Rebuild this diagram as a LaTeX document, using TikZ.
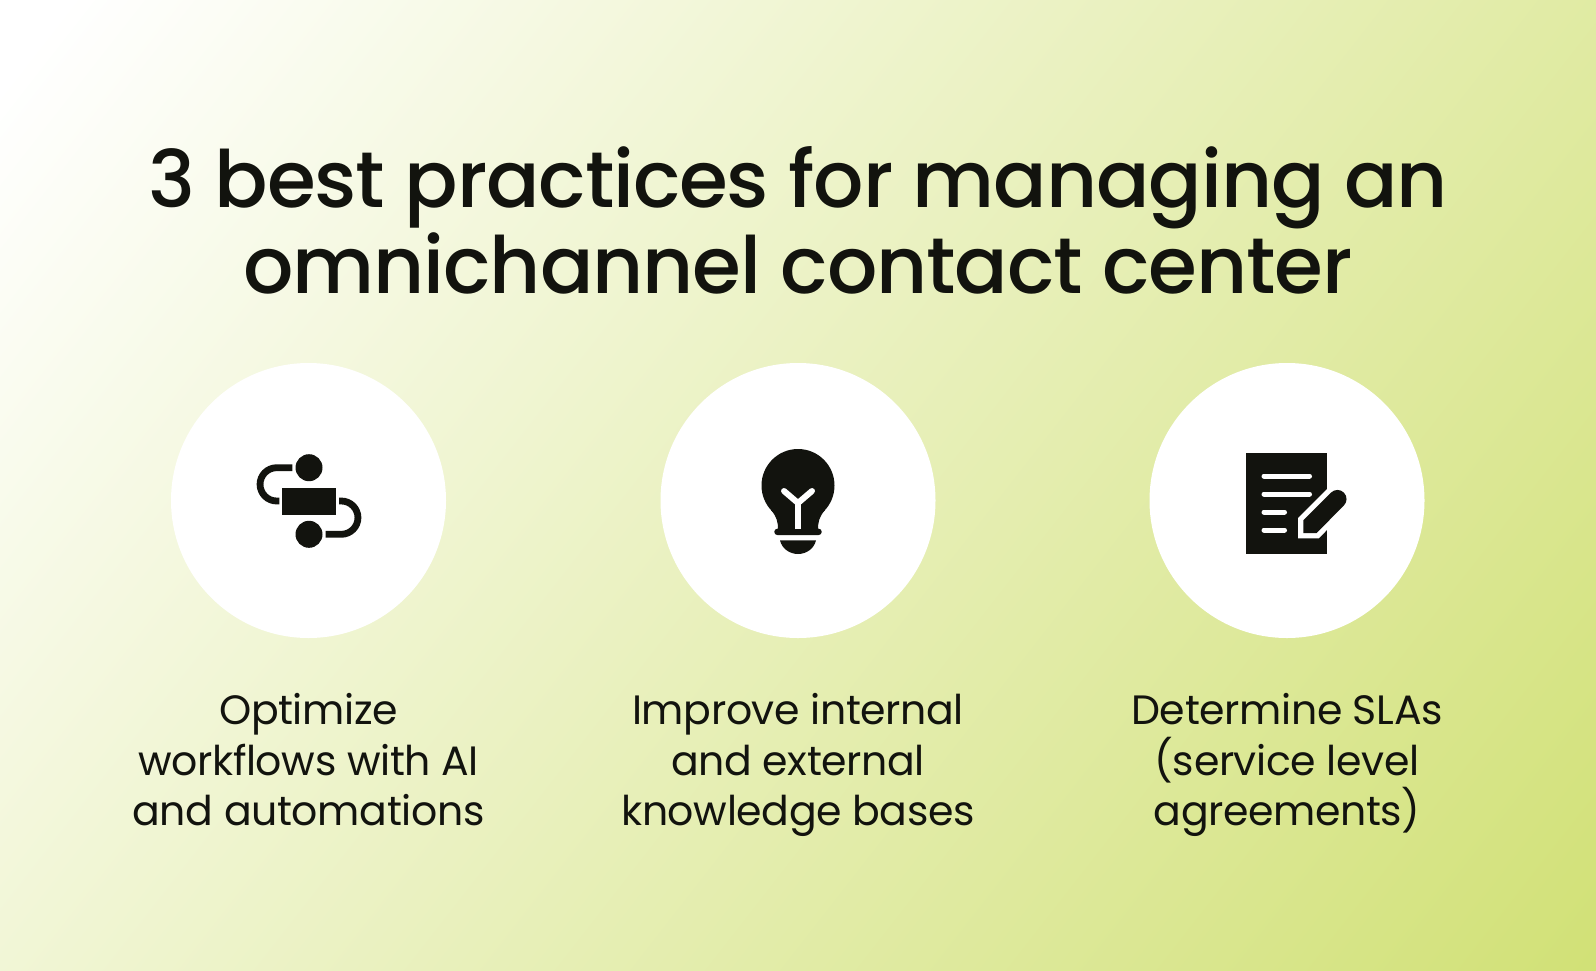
\documentclass[tikz,border=0pt]{standalone}
\usepackage{fontspec}
\setmainfont{Poppins}[LetterSpace=-0.9]
\newfontfamily\titlefont{Poppins Medium}[LetterSpace=-1.4]
\definecolor{ink}{HTML}{12130E}
\definecolor{limeend}{HTML}{C7DA58}
\pgfdeclareverticalshading{bggrad}{100bp}{color(0bp)=(limeend); color(83bp)=(white); color(100bp)=(white)}
\tikzset{
  x=1pt,y=-1pt,
  disc/.style={circle,fill=white,minimum size=275pt,inner sep=0pt},
  titletext/.style={align=center,text=ink,inner sep=0pt,anchor=base,font=\titlefont\fontsize{79}{85}\selectfont},
  bodytext/.style={align=center,text=ink,inner sep=0pt,anchor=base,font=\fontsize{41}{50.5}\selectfont},
  inkline/.style={draw=ink,line width=6.8pt},
  paperline/.style={draw=white,line width=5pt,line cap=round},
}
\begin{document}
\begin{tikzpicture}
\useasboundingbox (0,0) rectangle (1596,970);
\shade[shading=bggrad,shading angle=52] (0,0) rectangle (1596,970);
\node[titletext] (title1) at (798,207.5) {3 best practices for managing an};
\node[titletext] (title2) at (798,293) {omnichannel contact center};
\node[disc] (c1) at (308.5,500.5) {};
\node[disc] (c2) at (798,500.5) {};
\node[disc] (c3) at (1287,500.5) {};
\node[bodytext] (a1) at (308.5,724) {Optimize};
\node[bodytext] (a2) at (308.5,775) {workflows with AI};
\node[bodytext] (a3) at (308.5,825) {and automations};
\node[bodytext] (b1) at (798,724) {Improve internal};
\node[bodytext] (b2) at (798,775) {and external};
\node[bodytext] (b3) at (798,825) {knowledge bases};
\node[bodytext] (d1) at (1287,724) {Determine SLAs};
\node[bodytext] (d2) at (1287,775) {(service level};
\node[bodytext] (d3) at (1287,825) {agreements)};
% workflow icon
\fill[ink] (309,467.7) circle[radius=13.5];
\fill[ink] (309,534.3) circle[radius=13.5];
\fill[ink] (282.3,488) rectangle (335.7,514.7);
\draw[inkline] (292.3,467.7) -- (276.7,467.7) arc[start angle=-90,end angle=-270,radius=16.65] -- (279.3,501);
\draw[inkline] (339,501) -- (341.3,501) arc[start angle=-90,end angle=90,radius=16.65] -- (325.7,534.3);
% bulb icon
\fill[ink] (798,485.5) circle[radius=36.5];
\fill[ink] (771,510) .. controls (777,517) and (778,522) .. (778,530) -- (818,530) .. controls (818,522) and (819,517) .. (825,510) -- cycle;
\fill[ink,rounded corners=3pt] (774.3,528.7) rectangle (821.7,535);
\fill[ink] (780,540.3) -- (816,540.3) .. controls (814,549) and (806,554) .. (798,554) .. controls (790,554) and (782,549) .. (780,540.3) -- cycle;
\draw[white,line width=6pt] (798,529) -- (798,502);
\draw[white,line width=6pt,line cap=round,line join=miter] (784,491) -- (798,503) -- (812,491);
% document icon
\fill[ink] (1246,453.3) rectangle (1327.3,554);
\draw[paperline] (1264,476) -- (1309.5,476);
\draw[paperline] (1264,494) -- (1309.5,494);
\draw[paperline] (1264,512) -- (1284.5,512);
\draw[paperline] (1264,530) -- (1284.5,530);
\path[draw=white,line width=10.5pt,line join=miter]
  (1303.3,520.3) -- (1331,492.6) arc[start angle=-135,end angle=45,radius=9.1] -- (1316.4,533.2) -- (1303.3,533.2) -- cycle;
\path[fill=ink]
  (1303.3,520.3) -- (1331,492.6) arc[start angle=-135,end angle=45,radius=9.1] -- (1316.4,533.2) -- (1303.3,533.2) -- cycle;
\end{tikzpicture}
\end{document}
